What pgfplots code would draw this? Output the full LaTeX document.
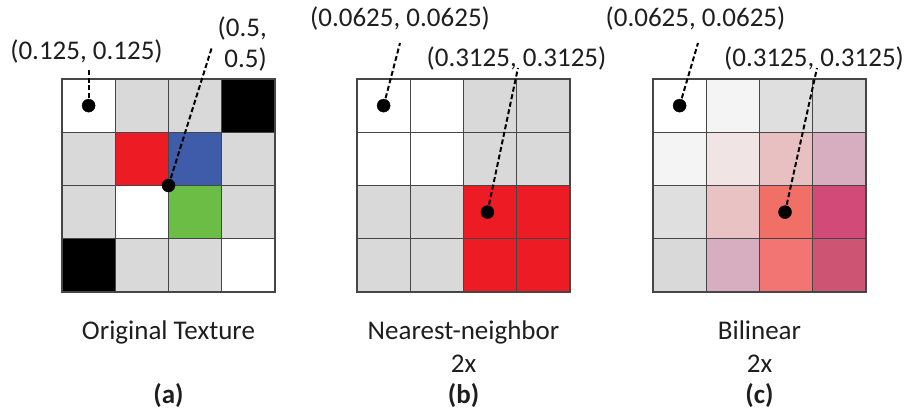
\documentclass[border=0pt]{standalone}
\usepackage{pgfplots}
\pgfplotsset{compat=1.18}
\usepackage{fontspec}
\setmainfont{Carlito}
\newcommand{\lbl}{\fontsize{27}{34}\selectfont}
\definecolor{cG}{RGB}{217,217,217}
\definecolor{cK}{RGB}{0,0,0}
\definecolor{cR}{RGB}{237,28,36}
\definecolor{cB}{RGB}{62,92,170}
\definecolor{cN}{RGB}{108,189,70}
\definecolor{cA}{RGB}{244,244,244}
\definecolor{cC}{RGB}{223,223,223}
\definecolor{cD}{RGB}{241,228,229}
\definecolor{cE}{RGB}{232,192,194}
\definecolor{cF}{RGB}{214,174,191}
\definecolor{cH}{RGB}{240,112,104}
\definecolor{cI}{RGB}{210,74,119}
\definecolor{cJ}{RGB}{233,194,195}
\definecolor{cL}{RGB}{242,117,115}
\definecolor{cM}{RGB}{205,84,115}
\definecolor{gridc}{RGB}{70,70,70}
\definecolor{txt}{RGB}{30,30,30}
\pgfplotsset{
  cellgrid/.style={
    width=213pt, height=213pt, scale only axis,
    xmin=-0.5, xmax=3.5, ymin=-0.5, ymax=3.5, y dir=reverse,
    hide axis, clip=false,
  },
  cell/.style={fill=#1, draw=none, mark=none},
  gridlines/.style={gridc, line width=1.3pt, unbounded coords=jump, line cap=rect, mark=none},
  dotmark/.style={only marks, mark=*, mark size=6.5pt, black},
  leader/.style={black, line width=2pt, dash pattern=on 5pt off 2.7pt, mark=none},
}
\begin{document}
\begin{tikzpicture}[every node/.style={text=txt}]
\path[use as bounding box] (0,0) rectangle (908pt,414pt);
% ---------------- (a) Original texture ----------------
\begin{axis}[cellgrid, at={(62pt,122pt)}, anchor=south west]
\addplot[cell=cG] coordinates {(0.5,-0.5) (2.5,-0.5) (2.5,0.5) (0.5,0.5)} --cycle;
\addplot[cell=cG] coordinates {(-0.5,0.5) (0.5,0.5) (0.5,2.5) (-0.5,2.5)} --cycle;
\addplot[cell=cG] coordinates {(2.5,0.5) (3.5,0.5) (3.5,2.5) (2.5,2.5)} --cycle;
\addplot[cell=cG] coordinates {(0.5,2.5) (2.5,2.5) (2.5,3.5) (0.5,3.5)} --cycle;
\addplot[cell=cK] coordinates {(2.5,-0.5) (3.5,-0.5) (3.5,0.5) (2.5,0.5)} --cycle;
\addplot[cell=cK] coordinates {(-0.5,2.5) (0.5,2.5) (0.5,3.5) (-0.5,3.5)} --cycle;
\addplot[cell=cR] coordinates {(0.5,0.5) (1.5,0.5) (1.5,1.5) (0.5,1.5)} --cycle;
\addplot[cell=cB] coordinates {(1.5,0.5) (2.5,0.5) (2.5,1.5) (1.5,1.5)} --cycle;
\addplot[cell=cN] coordinates {(1.5,1.5) (2.5,1.5) (2.5,2.5) (1.5,2.5)} --cycle;
\addplot[gridlines] coordinates {(-0.5,-0.5) (-0.5,3.5) (nan,nan) (0.5,-0.5) (0.5,3.5) (nan,nan) (1.5,-0.5) (1.5,3.5) (nan,nan) (2.5,-0.5) (2.5,3.5) (nan,nan) (3.5,-0.5) (3.5,3.5) (nan,nan)
 (-0.5,-0.5) (3.5,-0.5) (nan,nan) (-0.5,0.5) (3.5,0.5) (nan,nan) (-0.5,1.5) (3.5,1.5) (nan,nan) (-0.5,2.5) (3.5,2.5) (nan,nan) (-0.5,3.5) (3.5,3.5)};
\addplot[leader] coordinates {(0,0) (0,-0.67)};
\addplot[leader] coordinates {(1.5,1.5) (2.31,-1.08)};
\addplot[dotmark] coordinates {(0,0) (1.5,1.5)};
\node[font=\lbl, anchor=base] at (axis cs:-0.04,-0.857) {(0.125, 0.125)};
\node[font=\lbl, anchor=base east, inner sep=0pt] at (axis cs:3.35,-1.298) {(0.5,};
\node[font=\lbl, anchor=base east, inner sep=0pt] at (axis cs:3.35,-0.707) {0.5)};
\node[font=\lbl, anchor=base] at (axis cs:1.5,4.401) {Original Texture};
\node[font=\lbl\bfseries, anchor=base] at (axis cs:1.5,5.60) {(a)};
\end{axis}
% ---------------- (b) Nearest-neighbor ----------------
\begin{axis}[cellgrid, at={(357pt,122pt)}, anchor=south west]
\addplot[cell=cG] coordinates {(1.5,-0.5) (3.5,-0.5) (3.5,1.5) (1.5,1.5)} --cycle;
\addplot[cell=cG] coordinates {(-0.5,1.5) (1.5,1.5) (1.5,3.5) (-0.5,3.5)} --cycle;
\addplot[cell=cR] coordinates {(1.5,1.5) (3.5,1.5) (3.5,3.5) (1.5,3.5)} --cycle;
\addplot[gridlines] coordinates {(-0.5,-0.5) (-0.5,3.5) (nan,nan) (0.5,-0.5) (0.5,3.5) (nan,nan) (1.5,-0.5) (1.5,3.5) (nan,nan) (2.5,-0.5) (2.5,3.5) (nan,nan) (3.5,-0.5) (3.5,3.5) (nan,nan)
 (-0.5,-0.5) (3.5,-0.5) (nan,nan) (-0.5,0.5) (3.5,0.5) (nan,nan) (-0.5,1.5) (3.5,1.5) (nan,nan) (-0.5,2.5) (3.5,2.5) (nan,nan) (-0.5,3.5) (3.5,3.5)};
\addplot[leader] coordinates {(0,0) (0.308,-1.176)};
\addplot[leader] coordinates {(1.95,2.0) (2.523,-0.707)};
\addplot[dotmark] coordinates {(0,0) (1.95,2.0)};
\node[font=\lbl, anchor=base] at (axis cs:0.308,-1.477) {(0.0625, 0.0625)};
\node[font=\lbl, anchor=base] at (axis cs:2.495,-0.731) {(0.3125, 0.3125)};
\node[font=\lbl, anchor=base] at (axis cs:1.5,4.401) {Nearest-neighbor};
\node[font=\lbl, anchor=base] at (axis cs:1.5,5.021) {2x};
\node[font=\lbl\bfseries, anchor=base] at (axis cs:1.5,5.60) {(b)};
\end{axis}
% ---------------- (c) Bilinear ----------------
\begin{axis}[cellgrid, at={(653pt,122pt)}, anchor=south west]
\addplot[cell=cA] coordinates {(0.5,-0.5) (1.5,-0.5) (1.5,0.5) (0.5,0.5)} --cycle;
\addplot[cell=cA] coordinates {(-0.5,0.5) (0.5,0.5) (0.5,1.5) (-0.5,1.5)} --cycle;
\addplot[cell=cC] coordinates {(1.5,-0.5) (2.5,-0.5) (2.5,0.5) (1.5,0.5)} --cycle;
\addplot[cell=cC] coordinates {(-0.5,1.5) (0.5,1.5) (0.5,2.5) (-0.5,2.5)} --cycle;
\addplot[cell=cG] coordinates {(2.5,-0.5) (3.5,-0.5) (3.5,0.5) (2.5,0.5)} --cycle;
\addplot[cell=cG] coordinates {(-0.5,2.5) (0.5,2.5) (0.5,3.5) (-0.5,3.5)} --cycle;
\addplot[cell=cD] coordinates {(0.5,0.5) (1.5,0.5) (1.5,1.5) (0.5,1.5)} --cycle;
\addplot[cell=cE] coordinates {(1.5,0.5) (2.5,0.5) (2.5,1.5) (1.5,1.5)} --cycle;
\addplot[cell=cF] coordinates {(2.5,0.5) (3.5,0.5) (3.5,1.5) (2.5,1.5)} --cycle;
\addplot[cell=cF] coordinates {(0.5,2.5) (1.5,2.5) (1.5,3.5) (0.5,3.5)} --cycle;
\addplot[cell=cJ] coordinates {(0.5,1.5) (1.5,1.5) (1.5,2.5) (0.5,2.5)} --cycle;
\addplot[cell=cH] coordinates {(1.5,1.5) (2.5,1.5) (2.5,2.5) (1.5,2.5)} --cycle;
\addplot[cell=cI] coordinates {(2.5,1.5) (3.5,1.5) (3.5,2.5) (2.5,2.5)} --cycle;
\addplot[cell=cL] coordinates {(1.5,2.5) (2.5,2.5) (2.5,3.5) (1.5,3.5)} --cycle;
\addplot[cell=cM] coordinates {(2.5,2.5) (3.5,2.5) (3.5,3.5) (2.5,3.5)} --cycle;
\addplot[gridlines] coordinates {(-0.5,-0.5) (-0.5,3.5) (nan,nan) (0.5,-0.5) (0.5,3.5) (nan,nan) (1.5,-0.5) (1.5,3.5) (nan,nan) (2.5,-0.5) (2.5,3.5) (nan,nan) (3.5,-0.5) (3.5,3.5) (nan,nan)
 (-0.5,-0.5) (3.5,-0.5) (nan,nan) (-0.5,0.5) (3.5,0.5) (nan,nan) (-0.5,1.5) (3.5,1.5) (nan,nan) (-0.5,2.5) (3.5,2.5) (nan,nan) (-0.5,3.5) (3.5,3.5)};
\addplot[leader] coordinates {(0,0) (0.345,-1.176)};
\addplot[leader] coordinates {(1.98,2.0) (2.58,-0.707)};
\addplot[dotmark] coordinates {(0,0) (1.98,2.0)};
\node[font=\lbl, anchor=base] at (axis cs:0.298,-1.477) {(0.0625, 0.0625)};
\node[font=\lbl, anchor=base] at (axis cs:2.524,-0.744) {(0.3125, 0.3125)};
\node[font=\lbl, anchor=base] at (axis cs:1.5,4.401) {Bilinear};
\node[font=\lbl, anchor=base] at (axis cs:1.5,5.021) {2x};
\node[font=\lbl\bfseries, anchor=base] at (axis cs:1.5,5.60) {(c)};
\end{axis}
\end{tikzpicture}
\end{document}
